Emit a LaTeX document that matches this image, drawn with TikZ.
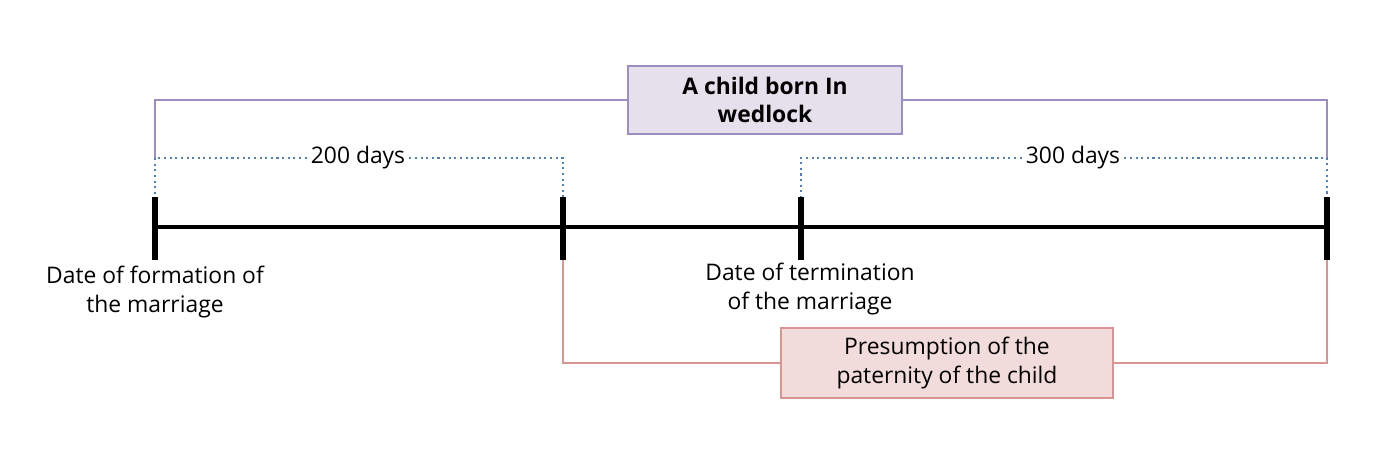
\documentclass[tikz,border=0pt]{standalone}
\usepackage{fontspec}
\setmainfont{Open Sans}
\usetikzlibrary{positioning}
\definecolor{purpleline}{HTML}{9D8EC2}
\definecolor{purplefill}{HTML}{E5E0EC}
\definecolor{redline}{HTML}{D99593}
\definecolor{redfill}{HTML}{F2DCDB}
\definecolor{blueline}{HTML}{4F81BD}
\begin{document}
\begin{tikzpicture}[x=0.02cm,y=-0.02cm,thick,
  every node/.style={font=\fontsize{13}{16}\selectfont,align=center},
  tickmark/.style={line width=3.2pt},
  daysline/.style={blueline,dotted,line width=1.2pt}]
\useasboundingbox (0,0) rectangle (1390,465);

% axis and ticks
\coordinate (A) at (155,227);
\coordinate (B) at (563,227);
\coordinate (C) at (801,227);
\coordinate (D) at (1327,227);
\draw[line width=2.3pt] (A) -- (D);
\foreach \p in {A,B,C,D}
  \draw[tickmark] ([yshift=0.6cm]\p) -- ([yshift=-0.66cm]\p);

% brackets
\node[draw=purpleline,fill=purplefill,minimum width=5.48cm,minimum height=1.36cm,font=\fontsize{13}{16}\selectfont\bfseries] (wed) at (765,100) {A child born In\\wedlock};
\draw[purpleline] (wed.west) -- (155,100) -- (155,160);
\draw[purpleline] (wed.east) -- (1327,100) -- (1327,160);

\node[fill=white,inner sep=2pt] (d200) at (358,158) {200 days};
\draw[daysline] (d200.west) -- (155,158) -- (155,197);
\draw[daysline] (d200.east) -- (563,158) -- (563,197);
\node[fill=white,inner sep=2pt] (d300) at (1073,158) {300 days};
\draw[daysline] (d300.west) -- (801,158) -- (801,197);
\draw[daysline] (d300.east) -- (1327,158) -- (1327,197);

\node[draw=redline,fill=redfill,minimum width=6.64cm,minimum height=1.4cm] (pat) at (947,363) {Presumption of the\\paternity of the child};
\draw[redline] (pat.west) -- (563,363) -- (563,260);
\draw[redline] (pat.east) -- (1327,363) -- (1327,260);

% labels
\node[inner sep=0pt] (form) at (155,292) {Date of formation of\\the marriage};
\node[inner sep=0pt] (term) at (810,289) {Date of termination\\of the marriage};
\end{tikzpicture}
\end{document}
